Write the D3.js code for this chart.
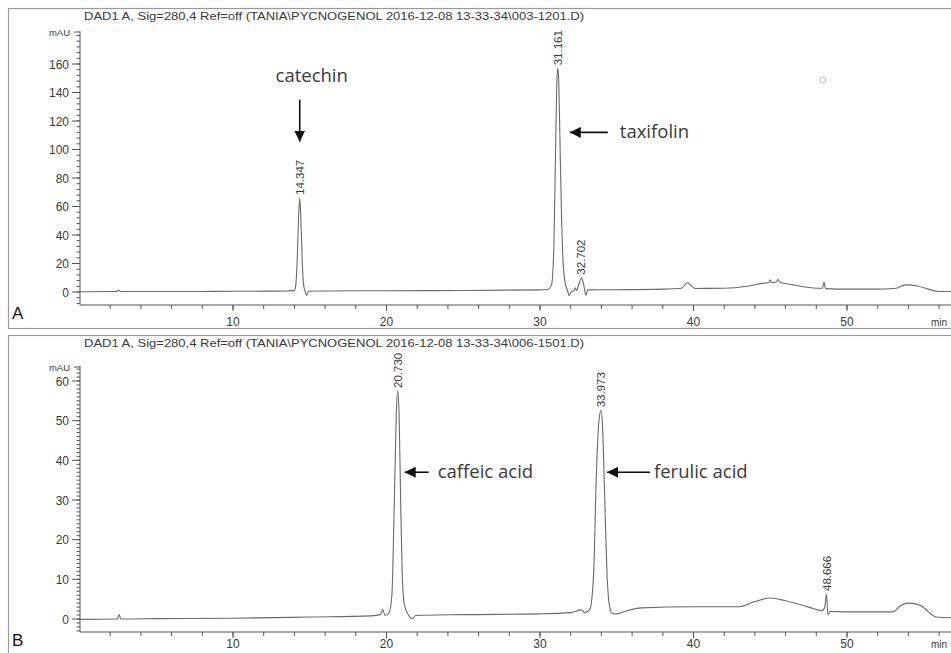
<!DOCTYPE html>
<html><head><meta charset="utf-8">
<script src="https://cdn.jsdelivr.net/npm/d3@7"></script>
<style>
body{margin:0;background:#fff;}
svg{display:block;}
</style></head><body>
<svg id="c" width="951" height="653"></svg>
<script>
// ---------- data ----------
const titleA = "DAD1 A, Sig=280,4 Ref=off (TANIA\\PYCNOGENOL 2016-12-08 13-33-34\\003-1201.D)";
const titleB = "DAD1 A, Sig=280,4 Ref=off (TANIA\\PYCNOGENOL 2016-12-08 13-33-34\\006-1501.D)";
const xTicks = [10, 20, 30, 40, 50];
const yTicksA = [0, 20, 40, 60, 80, 100, 120, 140, 160];
const yTicksB = [0, 10, 20, 30, 40, 50, 60];

// trace A: [time (min), signal (mAU)]
const traceA = [[0,0.2],[2.4,0.3],[2.55,1.3],[2.7,0.3],[5,0.3],[8,0.4],[10,0.5],[12,0.6],[13.6,0.7],[13.85,1.2],[13.95,0.6],[14.08,4],[14.18,22],[14.27,52],[14.347,66],[14.42,52],[14.51,22],[14.6,5],[14.7,0.5],[14.8,-2.5],[14.9,0.5],[16,0.7],[20,0.9],[25,1.1],[28,1.3],[30,1.5],[30.5,1.8],[30.75,5],[30.9,30],[31.0,90],[31.09,145],[31.161,157],[31.23,145],[31.32,95],[31.41,50],[31.5,22],[31.63,7],[31.78,1.5],[31.9,-2.5],[32.05,0.5],[32.22,1],[32.3,3],[32.38,1],[32.52,5],[32.702,10],[32.85,5],[33.0,-2.5],[33.1,1.5],[35,1.6],[38,2],[39.2,2.6],[39.6,6.5],[40.1,2.5],[42,2.6],[43.5,4],[44.6,6.2],[44.9,6.5],[45.0,8.5],[45.1,6.5],[45.4,7],[45.5,9],[45.6,7],[46.5,5],[47.5,3.2],[48.4,2.6],[48.5,7],[48.6,2.4],[50,2],[52,2],[53.2,2.6],[53.8,5],[54.6,4.2],[55.3,2],[56,0.4],[57,0.3]];

// trace B
const traceB = [[0,-0.1],[2.45,0],[2.58,1.1],[2.7,0],[5,0.1],[10,0.2],[15,0.5],[19,0.8],[19.6,1.1],[19.75,2.4],[19.9,0.9],[20.15,1.4],[20.35,6],[20.5,28],[20.64,52],[20.73,57.5],[20.82,52],[20.92,30],[21.02,12],[21.15,4],[21.4,1.2],[21.7,0.1],[21.9,0.9],[25,1.1],[30,1.3],[32,1.6],[32.7,2.3],[32.9,1.6],[33.25,2.4],[33.5,12],[33.66,35],[33.84,50],[33.973,52.6],[34.08,48],[34.22,30],[34.36,12],[34.5,4],[34.7,1.4],[35,1.3],[35.6,2],[36.6,2.8],[40,3.1],[43,3.1],[44,4.4],[45,5.3],[46,4.6],[47.5,3],[48.4,2.1],[48.55,3],[48.666,6.3],[48.75,1.1],[48.9,1.9],[50,1.8],[53,1.8],[53.5,3.4],[54,4],[54.8,3.4],[55.3,1.8],[55.8,0.5],[57,0.3]];

const peakLabelsA = [{t:14.347, v:66, text:"14.347"},{t:31.161, v:157, text:"31.161"},{t:32.702, v:10, text:"32.702"}];
const peakLabelsB = [{t:20.730, v:57.5, text:"20.730"},{t:33.973, v:52.6, text:"33.973"},{t:48.666, v:6.3, text:"48.666"}];

const annotA = [{name:"catechin", t:14.347, v:135, dir:"down"},{name:"taxifolin", t:31.161, v:112, dir:"left"}];
const annotB = [{name:"caffeic acid", t:20.730, v:37, dir:"left"},{name:"ferulic acid", t:33.973, v:37, dir:"left"}];

// ---------- layout (pixels, not data) ----------
const arrowStyle = {
  "taxifolin":   {head:12, tail:50, text:62},
  "caffeic acid":{head:7,  tail:31, text:40},
  "ferulic acid":{head:6,  tail:49, text:53}
};

// ---------- drawing ----------
const svg = d3.select("#c");
const defs = svg.append("defs");
defs.append("marker").attr("id","ah").attr("viewBox","0 0 10 10").attr("refX",10).attr("refY",5)
  .attr("markerWidth",11).attr("markerHeight",11).attr("markerUnits","userSpaceOnUse").attr("orient","auto")
  .append("path").attr("d","M0,0 L10,5 L0,10 z").attr("fill","#111");

const textCol = "#3a3a3a", axisCol = "#555";
const AF = "Liberation Sans, Arial, sans-serif";

function panel(cfg){
  const g = svg.append("g");
  g.append("rect").attr("x",8.5).attr("y",cfg.top+0.5).attr("width",960).attr("height",cfg.bottom-cfg.top)
    .attr("fill","none").attr("stroke","#9a9a9a").attr("stroke-width",1.2);
  g.append("text").attr("x",84).attr("y",cfg.top+12).attr("font-family",AF)
    .attr("font-size",11).attr("fill",textCol).attr("textLength",500).attr("lengthAdjust","spacingAndGlyphs").text(cfg.title);

  const x = d3.scaleLinear().domain([0,57]).range([79.5, 79.5+57*15.35]);
  const y = d3.scaleLinear().domain(cfg.ydom).range(cfg.yrange);
  const axisY = cfg.axisY, topY = cfg.axisTop;

  // y axis
  g.append("line").attr("x1",80).attr("x2",80).attr("y1",topY).attr("y2",axisY).attr("stroke",axisCol);
  const minor = d3.range(cfg.minorStart, y.invert(topY)+0.001, cfg.minorStep);
  g.selectAll(".ym").data(minor).join("line").attr("x1",76.5).attr("x2",80).attr("y1",d=>y(d)).attr("y2",d=>y(d)).attr("stroke",axisCol);
  g.selectAll(".yM").data(cfg.yticks).join("line").attr("x1",72).attr("x2",80).attr("y1",d=>y(d)).attr("y2",d=>y(d)).attr("stroke",axisCol);
  g.selectAll(".yl").data(cfg.yticks).join("text").attr("x",69).attr("y",d=>y(d)+4.5).attr("text-anchor","end")
    .attr("font-family",AF).attr("font-size",12).attr("fill",textCol).text(d=>d);
  g.append("line").attr("x1",74).attr("x2",80).attr("y1",topY+1).attr("y2",topY+1).attr("stroke",axisCol);
  g.append("text").attr("x",70).attr("y",topY+5).attr("text-anchor","end").attr("font-family",AF)
    .attr("font-size",9.5).attr("fill",textCol).text("mAU");

  // x axis
  g.append("line").attr("x1",80).attr("x2",951).attr("y1",axisY).attr("y2",axisY).attr("stroke",axisCol);
  const xmin = d3.range(2,57,2);
  g.selectAll(".xm").data(xmin).join("line").attr("x1",d=>x(d)).attr("x2",d=>x(d)).attr("y1",axisY).attr("y2",axisY+4).attr("stroke",axisCol);
  g.selectAll(".xM").data(xTicks).join("line").attr("x1",d=>x(d)).attr("x2",d=>x(d)).attr("y1",axisY).attr("y2",axisY+6).attr("stroke",axisCol);
  g.selectAll(".xl").data(xTicks).join("text").attr("x",d=>x(d)).attr("y",axisY+cfg.xlabOff).attr("text-anchor","middle")
    .attr("font-family",AF).attr("font-size",12).attr("fill",textCol).text(d=>d);
  g.append("text").attr("x",931).attr("y",axisY+cfg.xlabOff).attr("font-family",AF)
    .attr("font-size",10).attr("fill",textCol).text("min");

  // trace
  const line = d3.line().x(d=>x(d[0])).y(d=>y(d[1])).curve(d3.curveMonotoneX);
  g.append("path").attr("d",line(cfg.trace)).attr("fill","none").attr("stroke","#6a6a6a").attr("stroke-width",1.1);

  // peak labels (rotated)
  cfg.peaks.forEach(p=>{
    const px = x(p.t), py = y(p.v);
    g.append("text").attr("transform",`translate(${px+4},${py-3}) rotate(-90)`)
      .attr("font-family",AF).attr("font-size",11.5).attr("fill",textCol).text(p.text);
  });

  // annotations
  cfg.annot.forEach(a=>{
    const px = x(a.t), py = y(a.v);
    if(a.dir==="down"){
      g.append("line").attr("x1",px).attr("x2",px).attr("y1",py).attr("y2",py+42)
        .attr("stroke","#111").attr("stroke-width",1.6).attr("marker-end","url(#ah)");
      g.append("text").attr("x",px+12).attr("y",py-18).attr("text-anchor","middle").attr("font-family","Open Sans, sans-serif")
        .attr("font-size",18.5).attr("fill",textCol).text(a.name);
    } else {
      const s = arrowStyle[a.name];
      g.append("line").attr("x1",px+s.tail).attr("x2",px+s.head).attr("y1",py).attr("y2",py)
        .attr("stroke","#111").attr("stroke-width",1.6).attr("marker-end","url(#ah)");
      g.append("text").attr("x",px+s.text).attr("y",py+6).attr("font-family","Open Sans, sans-serif")
        .attr("font-size",18.5).attr("fill",textCol).text(a.name);
    }
  });

  g.append("text").attr("x",cfg.letterX).attr("y",cfg.letterY).attr("font-family",AF)
    .attr("font-size",17).attr("fill","#111").text(cfg.letter);
  return {g,x,y};
}

const A = panel({top:8, bottom:328, title:titleA, ydom:[0,160], yrange:[292,64], axisY:305, axisTop:31,
  yticks:yTicksA, minorStart:-8, minorStep:4, trace:traceA, peaks:peakLabelsA, annot:annotA, xlabOff:21,
  letter:"A", letterX:12, letterY:319});
A.g.append("circle").attr("cx",823).attr("cy",80).attr("r",3).attr("fill","none").attr("stroke","#bbb");

const B = panel({top:335, bottom:655, title:titleB, ydom:[0,60], yrange:[619,381], axisY:632, axisTop:366,
  yticks:yTicksB, minorStart:-3, minorStep:1, trace:traceB, peaks:peakLabelsB, annot:annotB, xlabOff:16,
  letter:"B", letterX:12, letterY:646});
</script>
</body></html>
